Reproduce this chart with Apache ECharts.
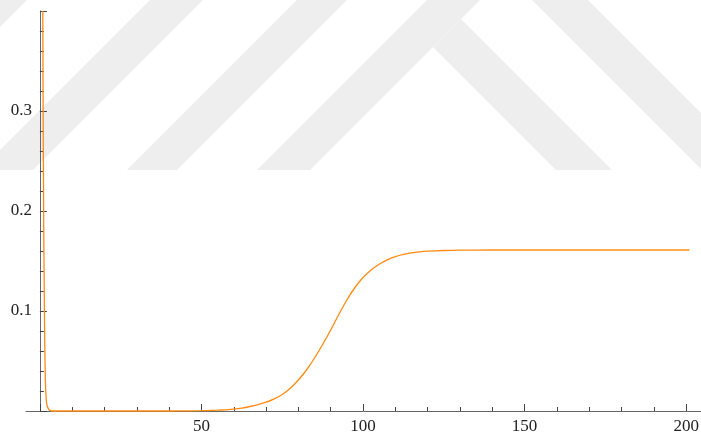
<!DOCTYPE html>
<html>
<head>
<meta charset="utf-8">
<script src="https://cdn.jsdelivr.net/npm/echarts@6/dist/echarts.min.js"></script>
<style>
html,body{margin:0;padding:0;background:#fff;}
#chart{width:701px;height:436px;}
</style>
</head>
<body>
<div id="chart"></div>
<script>
// ---- data ----
const xValues = [0.9, 1, 1.1, 1.2, 1.35, 1.5, 1.7, 2, 2.2, 2.5, 2.8, 3.2, 3.8, 10, 20, 30, 40, 45, 50, 52.5, 55, 57.5, 60, 62.5, 65, 67.5, 70, 72.5, 75, 77.5, 80, 82.5, 85, 87.5, 90, 92.5, 95, 97.5, 100, 102.5, 105, 107.5, 110, 112.5, 115, 117.5, 120, 125, 130, 140, 150, 160, 170, 180, 190, 201];
const yValues = [0.4, 0.3, 0.24, 0.18, 0.12, 0.07, 0.03, 0.01, 0.006, 0.003, 0.0015, 0.0005, 0, 0, 0, 0, 0, 0.0001, 0.0003, 0.0005, 0.0008, 0.0012, 0.0018, 0.0029, 0.0045, 0.0064, 0.0088, 0.0122, 0.0165, 0.0228, 0.031, 0.041, 0.053, 0.0665, 0.081, 0.0965, 0.111, 0.1235, 0.1335, 0.141, 0.1467, 0.1511, 0.1543, 0.1566, 0.1582, 0.1592, 0.1598, 0.1605, 0.1608, 0.161, 0.161, 0.161, 0.161, 0.161, 0.161, 0.161];
const xMajorTicks = [0, 50, 100, 150, 200];
const xMinorTicks = [10, 20, 30, 40, 60, 70, 80, 90, 110, 120, 130, 140, 160, 170, 180, 190];
const xTickLabels = [50, 100, 150, 200];
const yTickLabels = [0.1, 0.2, 0.3];

const seriesData = xValues.map((x, i) => [x, yValues[i]]);

const chart = echarts.init(document.getElementById('chart'), null, {renderer: 'canvas'});
const axisColor = '#666';
const labelFont = {fontFamily: '"Liberation Serif", "Times New Roman", serif', fontSize: 17, color: '#222'};
const GRID_LEFT = 26, GRID_RIGHT = 0;
const gridBox = {left: GRID_LEFT, right: GRID_RIGHT, top: 11, bottom: 25, containLabel: false, outerBoundsMode: 'none'};
const X_MIN = -4.3, X_MAX = 204.6;
// y axis sits at x = 0: shift it right from the grid's left edge
const plotW = 701 - GRID_LEFT - GRID_RIGHT;
const yAxisShift = (0 - X_MIN) / (X_MAX - X_MIN) * plotW;

const wm = '#eeeeee';
const band = pts => ({type: 'polygon', z: -10, silent: true, shape: {points: pts}, style: {fill: wm}});

chart.setOption({
  backgroundColor: '#fff',
  animation: false,
  graphic: [
    band([[0, 0], [27, 0], [0, 27]]),
    band([[150, 0], [203, 0], [33, 170], [-20, 170]]),
    band([[297, 0], [347, 0], [177, 170], [127, 170]]),
    band([[427, 0], [480, 0], [310, 170], [257, 170]]),
    band([[433, 47], [461, 19], [612, 170], [556, 170]]),
    band([[532, 0], [588, 0], [758, 170], [702, 170]])
  ],
  grid: [Object.assign({}, gridBox), Object.assign({}, gridBox)],
  xAxis: [{
    type: 'value', gridIndex: 0, min: X_MIN, max: X_MAX, position: 'bottom',
    splitLine: {show: false},
    axisLine: {show: true, onZero: false, lineStyle: {color: axisColor, width: 1}},
    axisTick: {show: true, inside: true, length: 7, customValues: xMajorTicks, lineStyle: {color: '#444', width: 1}},
    axisLabel: Object.assign({show: true, customValues: xTickLabels, margin: 7}, labelFont)
  }, {
    type: 'value', gridIndex: 1, min: X_MIN, max: X_MAX, position: 'bottom',
    splitLine: {show: false},
    axisLine: {show: false},
    axisTick: {show: true, inside: true, length: 4, customValues: xMinorTicks, lineStyle: {color: '#444', width: 1}},
    axisLabel: {show: false}
  }],
  yAxis: [{
    type: 'value', gridIndex: 0, min: 0, max: 0.4, interval: 0.1,
    position: 'left', offset: -yAxisShift,
    splitLine: {show: false},
    axisLine: {show: true, onZero: false, lineStyle: {color: axisColor, width: 1}},
    axisTick: {show: true, inside: true, length: 7, lineStyle: {color: '#444', width: 1}},
    minorTick: {show: true, splitNumber: 5, length: 4, lineStyle: {color: '#444', width: 1}},
    axisLabel: Object.assign({show: true, customValues: yTickLabels, margin: 8}, labelFont)
  }, {
    type: 'value', gridIndex: 1, min: 0, max: 0.4, show: false
  }],
  series: [{
    type: 'line', xAxisIndex: 0, yAxisIndex: 0,
    data: seriesData,
    showSymbol: false, symbol: 'none',
    smooth: 0.25,
    lineStyle: {color: '#ff8a12', width: 1.3},
    clip: false, z: 5
  }]
});
</script>
</body>
</html>
